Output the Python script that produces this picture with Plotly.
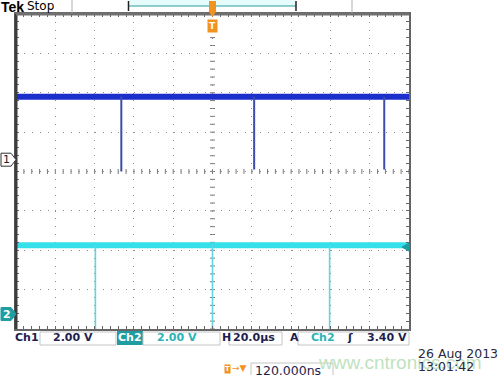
import plotly.graph_objects as go

# ---------------- data ----------------
time_window_us = [-100.0, 100.0]          # 10 div x 20 us/div, trigger at centre
time_scale_us = 20.0

ch1_level_v = 3.2
ch1_dip_times_us = [-46.4, 21.2, 87.4]
ch1_dip_min_v = [-0.6, -0.5, -0.5]
ch1_scale_v = 2.0
ch1_pos_div = 0.3

ch2_level_v = 3.5
ch2_dip_times_us = [-59.6, 0.0, 59.6]
ch2_dip_min_v = [-0.8, -0.8, -0.8]
ch2_scale_v = 2.0
ch2_pos_div = -3.62

trigger_level_v = 3.40

ch1_label = "Ch1"
ch1_scale_label = "2.00 V"
ch2_label = "Ch2"
ch2_scale_label = "2.00 V"
horiz_label = "20.0µs"
trig_src_label = "Ch2"
trig_level_label = "3.40 V"
trig_pos_label = "120.000ns"
date_label = "26 Aug 2013"
time_label = "13:01:42"
watermark = "www.cntronics.com"

# ---------------- geometry ----------------
W, H = 500, 375
L, R, T, B = 16, 409, 14, 329
PW, PH = R - L, B - T


def px(x):
    return (x - L) / PW


def py(y):
    return (B - y) / PH


def yrange(scale, pos):
    return [(-4 - pos) * scale, (4 - pos) * scale]


ch1_range = yrange(ch1_scale_v, ch1_pos_div)
ch2_range = yrange(ch2_scale_v, ch2_pos_div)


def v2paper(v, rng):
    return (v - rng[0]) / (rng[1] - rng[0])


BLUE = "#1b2fcc"
BLUE_DIP = "#3c4cae"
CYAN = "#35e0ea"
CYAN_DIP = "#5fd6df"
TEAL = "#1f9da0"
ORANGE = "#f2921f"
NAVY = "#1e1e4e"

fig = go.Figure()


def dip_xy(times, mins, level):
    xs, ys = [], []
    for t, m in zip(times, mins):
        xs += [t, t, None]
        ys += [level, m, None]
    return xs, ys


# Ch1
fig.add_trace(go.Scatter(x=time_window_us, y=[ch1_level_v, ch1_level_v],
                         mode="lines", line=dict(color=BLUE, width=6),
                         yaxis="y", hoverinfo="skip"))
x1, y1 = dip_xy(ch1_dip_times_us, ch1_dip_min_v, ch1_level_v)
fig.add_trace(go.Scatter(x=x1, y=y1, mode="lines",
                         line=dict(color=BLUE_DIP, width=2), yaxis="y",
                         hoverinfo="skip"))
# Ch2
fig.add_trace(go.Scatter(x=time_window_us, y=[ch2_level_v, ch2_level_v],
                         mode="lines", line=dict(color=CYAN, width=6),
                         yaxis="y2", hoverinfo="skip"))
x2, y2 = dip_xy(ch2_dip_times_us, ch2_dip_min_v, ch2_level_v)
fig.add_trace(go.Scatter(x=x2, y=y2, mode="lines",
                         line=dict(color=CYAN_DIP, width=1.6), yaxis="y2",
                         hoverinfo="skip"))

shapes = []
annotations = []

# centre-cross tick marks of the graticule
minor_t = time_scale_us / 5
n_t = int(round((time_window_us[1] - time_window_us[0]) / minor_t))
centre_v = (0 - ch1_pos_div) * ch1_scale_v
for k in range(n_t + 1):
    t = time_window_us[0] + k * minor_t
    shapes.append(dict(type="line", xref="x", yref="y", x0=t, x1=t,
                       ysizemode="pixel", yanchor=centre_v, y0=-2.5, y1=2.5,
                       line=dict(color="#7a7a7a", width=1), layer="below"))
minor_v = ch1_scale_v / 5
for k in range(41):
    v = ch1_range[0] + k * minor_v
    shapes.append(dict(type="line", xref="x", yref="y", y0=v, y1=v,
                       xsizemode="pixel", xanchor=0, x0=-2.5, x1=2.5,
                       line=dict(color="#7a7a7a", width=1), layer="below"))

# thicker left / top border
shapes.append(dict(type="line", xref="paper", yref="paper", x0=px(16), x1=px(16),
                   y0=0, y1=1, line=dict(color="#3c3c3c", width=3)))
shapes.append(dict(type="line", xref="paper", yref="paper", x0=0, x1=1,
                   y0=1, y1=1, line=dict(color="#707070", width=3)))


def marker(ypaper, fill, line):
    # pentagon pointing right, its tip on the left border (pixel-sized)
    shapes.append(dict(type="path", xref="paper", yref="paper", xsizemode="pixel",
                       ysizemode="pixel", xanchor=0, yanchor=ypaper,
                       path="M -15,-6.5 L -5,-6.5 L 0,0 L -5,6.5 L -15,6.5 Z",
                       fillcolor=fill, line=dict(color=line, width=1)))


# channel ground markers
g1 = v2paper(0, ch1_range)
g2 = v2paper(0, ch2_range)
marker(g1, "white", "#333")
annotations.append(dict(xref="paper", yref="paper", x=px(6.5), y=g1, text="1",
                        showarrow=False, xanchor="center", yanchor="middle",
                        font=dict(family="DejaVu Sans", size=11, color="#222")))
marker(g2, TEAL, TEAL)
annotations.append(dict(xref="paper", yref="paper", x=px(6.5), y=g2, text="<b>2</b>",
                        showarrow=False, xanchor="center", yanchor="middle",
                        font=dict(family="DejaVu Sans", size=11, color="white")))

# trigger level arrow (right edge)
shapes.append(dict(type="path", xref="paper", yref="paper", xsizemode="pixel",
                   ysizemode="pixel", xanchor=1, yanchor=v2paper(trigger_level_v, ch2_range),
                   path="M -7,0 L 0,4 L 0,-4 Z",
                   fillcolor=TEAL, line=dict(color=TEAL, width=1)))

# ---------- header ----------
annotations.append(dict(xref="paper", yref="paper", x=px(-1), y=py(7), xanchor="left",
                        yanchor="middle", text="<b>Tek</b>", showarrow=False,
                        font=dict(family="Liberation Sans", size=14, color="black")))
annotations.append(dict(xref="paper", yref="paper", x=px(25), y=py(6), xanchor="left",
                        yanchor="middle", text="Stop", showarrow=False,
                        font=dict(family="DejaVu Sans", size=12, color="black")))
for gx in (72, 352):
    shapes.append(dict(type="line", xref="paper", yref="paper", x0=px(gx), x1=px(gx),
                       y0=py(0), y1=py(13), line=dict(color="#b0b0b0", width=1)))
shapes.append(dict(type="rect", xref="paper", yref="paper", x0=px(128), x1=px(296),
                   y0=py(0), y1=py(6), fillcolor="#e6fbfb", line=dict(width=0)))
shapes.append(dict(type="line", xref="paper", yref="paper", x0=px(128), x1=px(296),
                   y0=py(6), y1=py(6), line=dict(color="#2a9d9d", width=1)))
for bx in (128.5, 296):
    shapes.append(dict(type="line", xref="paper", yref="paper", x0=px(bx), x1=px(bx),
                       y0=py(1), y1=py(11), line=dict(color="#222", width=1.5)))
# trigger position marker (orange)
shapes.append(dict(type="rect", xref="paper", yref="paper", x0=px(209), x1=px(216),
                   y0=py(1), y1=py(12), fillcolor=ORANGE, line=dict(width=0)))
shapes.append(dict(type="path", xref="paper", yref="paper",
                   path=f"M {px(208.5)},{py(11)} L {px(216.5)},{py(11)} L {px(212.5)},{py(17)} Z",
                   fillcolor=ORANGE, line=dict(width=0)))
annotations.append(dict(xref="paper", yref="paper", x=px(212.5), y=py(26.5), text="<b>T</b>",
                        showarrow=False, bgcolor=ORANGE, borderpad=1, xanchor="center",
                        yanchor="middle",
                        font=dict(family="DejaVu Sans", size=9, color="white")))

# ---------- bottom status line ----------
ROW1 = 338


def txt(x, y, s, color=NAVY, anchor="left", size=11, bold=True, family="DejaVu Sans"):
    annotations.append(dict(xref="paper", yref="paper", x=px(x), y=py(y), xanchor=anchor,
                            yanchor="middle", text=(f"<b>{s}</b>" if bold else s),
                            showarrow=False,
                            font=dict(family=family, size=size, color=color)))


def box(x0, x1, y0, y1, color="#c4c4c4", fill=None):
    shapes.append(dict(type="rect", xref="paper", yref="paper", x0=px(x0), x1=px(x1),
                       y0=py(y0), y1=py(y1),
                       fillcolor=fill if fill else "rgba(0,0,0,0)",
                       line=dict(color=color, width=1 if not fill else 0)))


txt(13, ROW1, ch1_label)
box(40, 116, 332, 345)
txt(51, ROW1, ch1_scale_label)
box(117, 143, 331, 345, fill=TEAL)
txt(116, ROW1, ch2_label, color="white")
box(143, 220, 332, 345)
txt(155, ROW1, ch2_scale_label, color="#2ab4b8")
txt(220, ROW1, "H")
box(229, 282, 332, 345)
txt(231, ROW1, horiz_label)
txt(288, ROW1, "A")
box(298, 409, 332, 345)
txt(309, ROW1, trig_src_label, color="#2ab4b8")
txt(345, ROW1, "ʃ")
txt(409, ROW1, trig_level_label, anchor="right")

# second row
txt(316, 362, watermark, color="#bfe2bf", size=19, bold=False, family="Liberation Sans")
annotations.append(dict(xref="paper", yref="paper", x=px(227), y=py(368.5), text="<b>T</b>",
                        showarrow=False, bgcolor=ORANGE, borderpad=0, xanchor="center",
                        yanchor="middle",
                        font=dict(family="DejaVu Sans", size=7, color="white")))
txt(230, 368, "→▼", color=ORANGE, size=9, bold=False)
box(251, 333, 363, 380)
txt(253, 370, trig_pos_label, size=12.5, bold=False)
txt(416, 353, date_label, color="#2a2a3a", size=12.5, bold=False)
txt(416, 366.5, time_label, color="#2a2a3a", size=12.5, bold=False)

fig.update_layout(
    width=W, height=H,
    margin=dict(l=L, r=W - R, t=T, b=H - B, pad=0),
    paper_bgcolor="white", plot_bgcolor="white",
    showlegend=False,
    xaxis=dict(range=time_window_us, tick0=time_window_us[0], dtick=time_scale_us,
               showgrid=True, gridcolor="#8c8c8c", gridwidth=1, griddash="1px,6.86px",
               zeroline=False, showticklabels=False,
               showline=True, linecolor="#666", linewidth=2, mirror="allticks",
               ticks="inside", ticklen=3, tickcolor="#666",
               minor=dict(dtick=minor_t, tick0=time_window_us[0], ticks="inside",
                          ticklen=3, tickcolor="#666", showgrid=False)),
    yaxis=dict(range=ch1_range, tick0=ch1_range[0], dtick=ch1_scale_v,
               showgrid=True, gridcolor="#8c8c8c", gridwidth=1, griddash="1px,6.88px",
               zeroline=False, showticklabels=False,
               showline=True, linecolor="#666", linewidth=2, mirror="allticks",
               ticks="inside", ticklen=3, tickcolor="#666",
               minor=dict(dtick=minor_v, tick0=ch1_range[0], ticks="inside",
                          ticklen=3, tickcolor="#666", showgrid=False)),
    yaxis2=dict(range=ch2_range, overlaying="y", visible=False),
    shapes=shapes,
    annotations=annotations,
)

fig.write_html("out.html", config={"displayModeBar": False},
               post_script="document.body.style.margin='0px';")
